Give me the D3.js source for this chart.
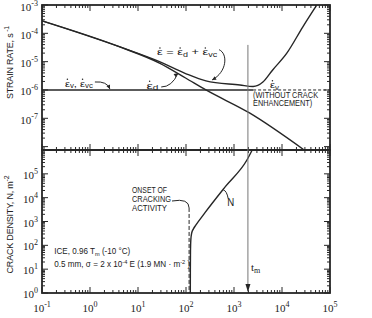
<!DOCTYPE html>
<html>
<head>
<meta charset="UTF-8">
<style>
  body { margin: 0; background: #fff; }
  svg { display: block; }
  .tick-label { font-family: "Liberation Serif", serif; font-size: 11px; fill: #222; }
  .ann { font-family: "Liberation Sans", sans-serif; fill: #222; }
  .axis-title { font-family: "Liberation Sans", sans-serif; font-size: 9px; letter-spacing: -0.2px; fill: #222; }
</style>
</head>
<body>
<svg></svg>
<script src="https://d3js.org/d3.v7.min.js"></script>
<script>
let width = 372, height = 318;

// tick exponents
const xTickExps = [-1, 0, 1, 2, 3, 4, 5];
const topTickExps = [-3, -4, -5, -6, -7];
const botTickExps = [0, 1, 2, 3, 4, 5];

// strain rate curves (t in s, strain rate in 1/s)
const diffTime = [0.1, 4.2, 28, 98, 260, 2100, 29000];
const diffRate = [2.75e-4, 3.3e-5, 8.9e-6, 2.65e-6, 1.0e-6, 1.55e-7, 7.6e-9];

const totalTime = [0.1, 4.2, 28, 98, 260, 1330, 2500, 4000, 6400, 12600, 27000, 53000];
const totalRate = [2.75e-4, 3.3e-5, 1.0e-5, 3.8e-6, 2.1e-6, 1.5e-6, 1.32e-6, 1.9e-6, 5.1e-6, 2.0e-5, 1.67e-4, 1.0e-3];

const steadyRate = 1e-6;
const steadySolidEnd = 2500;
const tm = 1950;
const tmTop = 3.9e-5;

// crack density curve
const crackTime = [123, 123.3, 124, 126, 131, 142, 160, 251, 660, 1860, 2400];
const crackDensity = [1, 10, 60, 170, 320, 480, 700, 2400, 2.9e4, 3.8e5, 1e6];

const onsetTime = 116;
const onsetTop = 3700;

let svg = d3.select("svg").attr("width", width).attr("height", height);

let x = d3.scaleLog().domain([0.1, 1e5]).range([42, 330]);
let yTop = d3.scaleLog().domain([1e-3, 7.6e-9]).range([5, 150]);
let yBot = d3.scaleLog().domain([1e6, 1]).range([150, 293]);

const ink = "#262626";

let isMajor = v => Math.abs(Math.log10(v) - Math.round(Math.log10(v))) < 1e-6;

// frames
[yTop, yBot].forEach(ys => {
  svg.append("rect")
    .attr("x", x.range()[0]).attr("y", ys.range()[0])
    .attr("width", x.range()[1] - x.range()[0])
    .attr("height", ys.range()[1] - ys.range()[0])
    .attr("fill", "none").attr("stroke", ink).attr("stroke-width", 1.8);
});

let ticks = svg.append("g").attr("stroke", ink).attr("stroke-width", 1);

// x ticks on every horizontal border
function xTicks(yPos, dir) {
  ticks.selectAll(null).data(x.ticks()).enter().append("line")
    .attr("x1", d => x(d)).attr("x2", d => x(d))
    .attr("y1", yPos).attr("y2", d => yPos + dir * (isMajor(d) ? 6 : 3));
}
xTicks(yTop.range()[0], 1);
xTicks(yTop.range()[1], -1);
xTicks(yBot.range()[0], 1);
xTicks(yBot.range()[1], -1);

function yTicks(ys) {
  let tv = ys.ticks().filter(d => ys(d) > ys.range()[0] - 0.5 && ys(d) < ys.range()[1] + 0.5);
  [[x.range()[0], 1], [x.range()[1], -1]].forEach(([xPos, dir]) => {
    ticks.selectAll(null).data(tv).enter().append("line")
      .attr("y1", d => ys(d)).attr("y2", d => ys(d))
      .attr("x1", xPos).attr("x2", d => xPos + dir * (isMajor(d) ? 6 : 3));
  });
}
yTicks(yTop);
yTicks(yBot);

// tick labels
function powerLabel(g, px, py, exp, anchor) {
  let t = g.append("text").attr("class", "tick-label")
    .attr("x", px).attr("y", py).attr("text-anchor", anchor);
  t.append("tspan").text("10");
  t.append("tspan").attr("dy", -5).attr("font-size", 8).text(exp < 0 ? "-" + (-exp) : exp);
  return t;
}
let labels = svg.append("g");
xTickExps.forEach(e => powerLabel(labels, x(Math.pow(10, e)), 312, e, "middle"));
topTickExps.forEach(e => powerLabel(labels, 38, yTop(Math.pow(10, e)) + 5.5, e, "end"));
botTickExps.forEach(e => powerLabel(labels, 38, yBot(Math.pow(10, e)) + 5, e, "end"));

// axis titles
let tTop = svg.append("text").attr("class", "axis-title")
  .attr("transform", `translate(13, ${(yTop.range()[0] + yTop.range()[1]) / 2 - 15}) rotate(-90)`)
  .attr("text-anchor", "middle");
tTop.append("tspan").text("STRAIN RATE, s");
tTop.append("tspan").attr("dy", -4).attr("font-size", 7).text(" -1");

let tBot = svg.append("text").attr("class", "axis-title")
  .attr("transform", `translate(13, ${(yBot.range()[0] + yBot.range()[1]) / 2 + 3}) rotate(-90)`)
  .attr("text-anchor", "middle");
tBot.append("tspan").text("CRACK DENSITY, N, m");
tBot.append("tspan").attr("dy", -4).attr("font-size", 7).text("-2");

svg.append("text").attr("class", "axis-title")
  .attr("x", (x.range()[0] + x.range()[1]) / 2).attr("y", 325)
  .attr("text-anchor", "middle").text("CREEP TIME, s");

// curves
let lineTop = d3.line().x(d => x(d[0])).y(d => yTop(d[1])).curve(d3.curveMonotoneX);
let lineBot = d3.line().x(d => x(d[0])).y(d => yBot(d[1])).curve(d3.curveMonotoneX);

svg.append("clipPath").attr("id", "clipTop").append("rect")
  .attr("x", 42).attr("y", 5).attr("width", 288).attr("height", 145);

let curves = svg.append("g").attr("fill", "none").attr("stroke", ink).attr("stroke-width", 1.4);

curves.append("path").attr("clip-path", "url(#clipTop)")
  .attr("d", lineTop(diffTime.map((t, i) => [t, diffRate[i]])));
curves.append("path").attr("clip-path", "url(#clipTop)")
  .attr("d", lineTop(totalTime.map((t, i) => [t, totalRate[i]])));

curves.append("line")
  .attr("x1", x(0.1)).attr("x2", x(steadySolidEnd))
  .attr("y1", yTop(steadyRate)).attr("y2", yTop(steadyRate));
curves.append("line")
  .attr("x1", x(steadySolidEnd)).attr("x2", x(1e5))
  .attr("y1", yTop(steadyRate)).attr("y2", yTop(steadyRate))
  .attr("stroke-dasharray", "3,2").attr("stroke-width", 1);

curves.append("path")
  .attr("d", lineBot(crackTime.map((t, i) => [t, crackDensity[i]])));

curves.append("line")
  .attr("x1", x(onsetTime)).attr("x2", x(onsetTime))
  .attr("y1", yBot(onsetTop)).attr("y2", yBot(1))
  .attr("stroke-dasharray", "4,2").attr("stroke-width", 1);

// t_m line with arrow
svg.append("line")
  .attr("x1", x(tm)).attr("x2", x(tm))
  .attr("y1", yTop(tmTop)).attr("y2", yBot(1) - 2)
  .attr("stroke", "#777").attr("stroke-width", 1);
svg.append("path")
  .attr("d", `M${x(tm) - 2.5},${yBot(1) - 9} L${x(tm)},${yBot(1) - 1} L${x(tm) + 2.5},${yBot(1) - 9} Z`)
  .attr("fill", ink);

// annotations (condensed type via textLength)
let ann = svg.append("g");
function annText(px, py, w, parts, size) {
  size = size || 9;
  let t = ann.append("text").attr("class", "ann")
    .attr("x", px).attr("y", py).attr("font-size", size)
    .attr("textLength", w).attr("lengthAdjust", "spacingAndGlyphs");
  let cur = 0;
  parts.forEach(p => {
    let [s, kind] = Array.isArray(p) ? p : [p, null];
    let off = kind === "sub" ? 1.5 : kind === "sup" ? -3 : 0;
    let ts = t.append("tspan").text(s);
    if (off !== cur) ts.attr("dy", off - cur);
    if (kind) ts.attr("font-size", size * 0.7);
    cur = off;
  });
  return t;
}
// dots over each epsilon
function dotEps(t) {
  let node = t.node(), s = node.textContent;
  for (let i = 0; i < s.length; i++) {
    if (s[i] !== "\u03b5") continue;
    let ext = node.getExtentOfChar(i), p = node.getStartPositionOfChar(i);
    ann.append("circle").attr("cx", ext.x + ext.width / 2).attr("cy", p.y - 7.5).attr("r", 0.75).attr("fill", ink);
  }
}
const eps = "\u03b5";

let t1 = annText(x(25), yTop(1.3e-5) - 3, 60,
  [eps, " = " + eps, ["d", "sub"], " + " + eps, ["vc", "sub"]]);
let t2 = annText(x(15), yTop(1.2e-6) + 1, 12, [eps, ["d", "sub"]]);
let t3 = annText(x(0.3), yTop(1.3e-6), 28, [eps, ["v", "sub"], ", " + eps, ["vc", "sub"]]);
let t4 = annText(x(5600), yTop(1.15e-6), 9, [eps, ["v", "sub"]]);
[t1, t2, t3, t4].forEach(dotEps);

annText(x(2500), yTop(steadyRate) + 8, 65, ["(WITHOUT CRACK"]);
annText(x(2500), yTop(steadyRate) + 16, 59, ["ENHANCEMENT)"]);

const onsetLines = ["ONSET OF", "CRACKING", "ACTIVITY"];
const onsetWidths = [35, 39, 35];
onsetLines.forEach((s, i) => annText(x(7.5), 193 + i * 9, onsetWidths[i], [s]));

annText(x(720), yBot(4400), 7, ["N"], 10);

let tmLabel = ann.append("text").attr("class", "tick-label").attr("x", x(tm) + 3).attr("y", yBot(8));
tmLabel.append("tspan").text("t");
tmLabel.append("tspan").attr("dy", 2).attr("font-size", 8).text("m");

annText(x(0.18), yBot(43), 76, ["ICE,  0.96 T", ["m", "sub"], " (-10 \u00b0C)"], 8.5);
annText(x(0.18), yBot(12.5), 136,
  ["0.5 mm, \u03c3 = 2 x 10", ["-4", "sup"], " E  (1.9 MN \u00b7 m", ["-2", "sup"], " )"], 8.5);

// leader arrows
let leaders = svg.append("g").attr("fill", "none").attr("stroke", ink).attr("stroke-width", 1);
function arrowHead(px, py, angle) {
  let a = angle * Math.PI / 180, l = 4, w = 2;
  let bx = px - l * Math.cos(a), by = py - l * Math.sin(a);
  svg.append("path")
    .attr("d", `M${px},${py} L${bx - w * Math.sin(a)},${by + w * Math.cos(a)} L${bx + w * Math.sin(a)},${by - w * Math.cos(a)} Z`)
    .attr("fill", ink);
}
let right = t => { let b = t.node().getBBox(); return [b.x + b.width, b.y + b.height / 2]; };

// total curve leader
let b1 = right(t1);
let p1x = x(350), p1y = yTop(2.0e-6) - 1.5;
leaders.append("path").attr("d", `M${b1[0] + 2},${b1[1] - 3} C${b1[0] + 11},${b1[1] + 1} ${b1[0] + 10},${p1y - 8} ${p1x},${p1y}`);
arrowHead(p1x, p1y, 150);
// eps_d leader
let b2 = right(t2);
let p2x = x(68), p2y = yTop(4.2e-6) + 1;
leaders.append("path").attr("d", `M${b2[0] + 2},${b2[1] + 1} Q${p2x - 6},${b2[1] + 1} ${p2x},${p2y}`);
arrowHead(p2x, p2y, -35);
// eps_v leader
let b3 = right(t3);
let p3x = x(2.6), p3y = yTop(steadyRate) - 1;
leaders.append("path").attr("d", `M${b3[0] + 2},${b3[1] - 2} Q${p3x - 3},${b3[1] - 3} ${p3x},${p3y}`);
arrowHead(p3x, p3y, 65);
// onset leader
leaders.append("path").attr("d", `M${x(7.5) + 40},${201} Q${x(onsetTime)},${198} ${x(onsetTime)},${yBot(onsetTop)}`);
// N leader
leaders.append("path").attr("d", `M${x(600)},${yBot(2.1e4)} Q${x(700)},${yBot(2.0e4)} ${x(760)},${yBot(9000)}`);
</script>
</body>
</html>
